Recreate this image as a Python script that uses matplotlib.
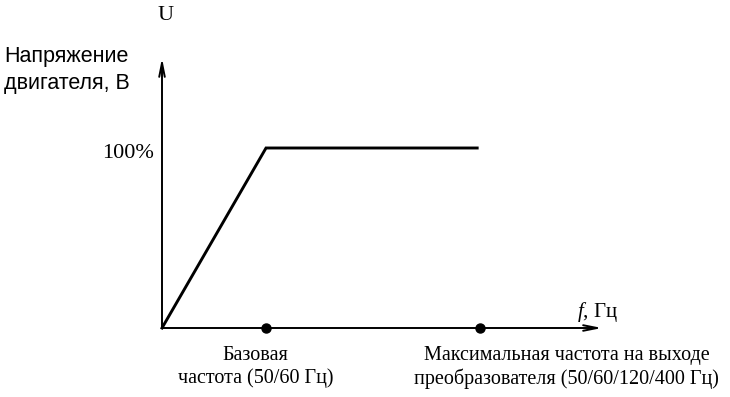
import matplotlib
matplotlib.use("Agg")
import matplotlib.pyplot as plt

plt.rcParams["font.family"] = ["Liberation Serif", "DejaVu Serif"]
plt.rcParams["mathtext.fontset"] = "custom"
plt.rcParams["mathtext.it"] = "Liberation Serif:italic"
plt.rcParams["mathtext.rm"] = "Liberation Serif"

# V/f characteristic (frequency in units of base frequency, voltage in %)
freq = [0.0, 1.0, 3.03]
voltage = [0, 100, 100]
marked_freq = [1.0, 3.06]
marked_labels = [
    "Базовая\nчастота (50/60 Гц)",
    "Максимальная частота на выходе\nпреобразователя (50/60/120/400 Гц)",
]
y_tick_value = 100
y_tick_label = "100%"
y_name = "U"
y_title = "Напряжение\nдвигателя, В"
x_name = "$f$, Гц"

W, H = 730, 397


def px(x, y):
    return x / W, 1 - y / H


fig = plt.figure(figsize=(7.3, 3.97), dpi=100)
ax = fig.add_axes([162 / W, (H - 328) / H, 440 / W, 270 / H])
ax.set_xlim(0, 4.23)
ax.set_ylim(0, 150)
ax.axis("off")

arrow = dict(arrowstyle="->,head_length=1.0,head_width=0.2", lw=1.4, color="black",
             shrinkA=0, shrinkB=0)
ax.annotate("", xy=(4.23, 0), xytext=(0, 0), arrowprops=arrow, annotation_clip=False)
ax.annotate("", xy=(0, 150), xytext=(0, 0), arrowprops=arrow, annotation_clip=False)

ax.plot(freq, voltage, color="black", lw=2.1, solid_joinstyle="miter", clip_on=False)
ax.plot(marked_freq, [0] * len(marked_freq), "o", color="black", ms=6.5, clip_on=False)

ax.text(-0.08, y_tick_value - 3, y_tick_label, ha="right", va="center", fontsize=16)

for xf, lab, dx in zip(marked_freq, marked_labels, [-0.1, 0.83]):
    ax.text(xf + dx, -10, lab, ha="center", va="top", fontsize=14.5, linespacing=1.2)

fig.text(*px(166, 15), y_name, ha="center", va="center", fontsize=16)
fig.text(*px(4, 70), y_title, ha="left", va="center", fontsize=15.5,
         family=["Liberation Sans", "DejaVu Sans"], linespacing=1.35)
fig.text(*px(577, 312), x_name, ha="left", va="center", fontsize=15)

fig.savefig("out.png", dpi=100)
